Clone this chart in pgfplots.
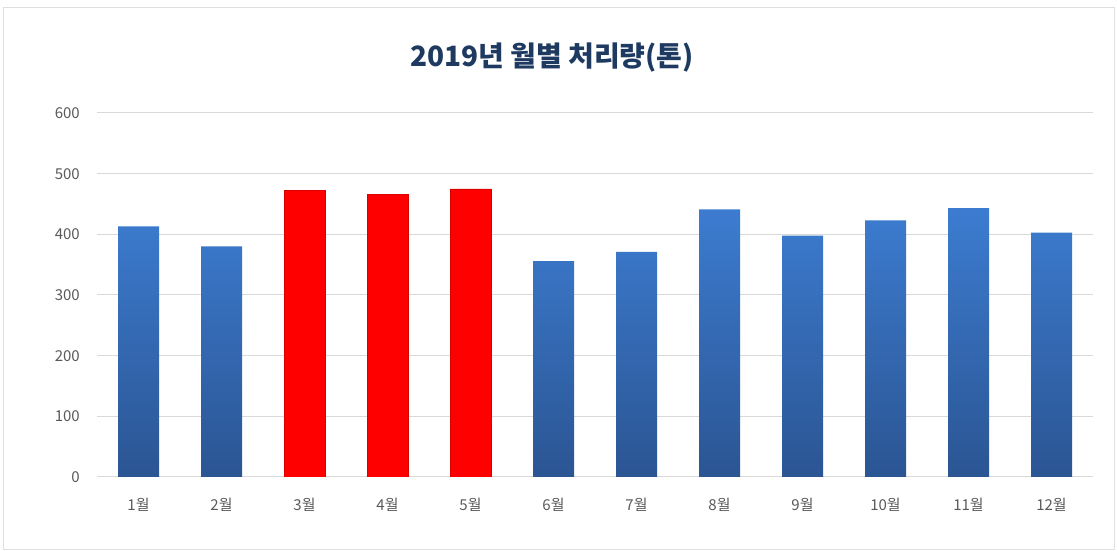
\documentclass[border=0pt]{standalone}
\usepackage{fontspec}
\setmainfont{Noto Sans CJK KR}
\usepackage{pgfplots}
\pgfplotsset{compat=1.18}
\definecolor{gridgray}{HTML}{D9D9D9}
\definecolor{ticktext}{HTML}{595959}
\definecolor{titleblue}{HTML}{1F3A60}
\definecolor{bartop}{HTML}{3C7CD0}
\definecolor{barbot}{HTML}{2B5593}
\begin{document}
\begin{tikzpicture}
\useasboundingbox (0pt,0pt) rectangle (1117pt,551pt);
\draw[draw=gray!25, line width=1pt] (3pt,1pt) rectangle (1114pt,543pt);
\node[text=titleblue, font=\fontsize{28}{33}\selectfont\bfseries] at (552pt,493pt) {2019년 월별 처리량(톤)};
\begin{axis}[
  at={(97pt,74pt)}, anchor=south west,
  scale only axis, width=996pt, height=364pt,
  xmin=0.5, xmax=12.5, ymin=0, ymax=600,
  axis line style={draw=none},
  major tick length=0pt,
  ymajorgrids, grid style={gridgray, line width=1pt},
  xtick={1,...,12},
  xticklabels={1월,2월,3월,4월,5월,6월,7월,8월,9월,10월,11월,12월},
  ytick={0,100,...,600},
  /pgf/number format/assume math mode=true,
  tick label style={font=\fontsize{15}{17}\selectfont, text=ticktext},
  yticklabel style={anchor=east, inner sep=0pt, xshift=-17pt},
  xticklabel style={anchor=center, inner sep=0pt, yshift=-28pt},
]
\addplot[ybar, bar width=41pt, bar shift=0pt, draw=none, top color=bartop, bottom color=barbot]
  coordinates {(1,413) (2,380) (6,356) (7,371) (8,441) (9,398) (10,423) (11,443) (12,403)};
\addplot[ybar, bar width=41pt, bar shift=0pt, fill=red, draw=red!85!black, line width=0.6pt]
  coordinates {(3,473) (4,466) (5,475)};
\end{axis}
\end{tikzpicture}
\end{document}
